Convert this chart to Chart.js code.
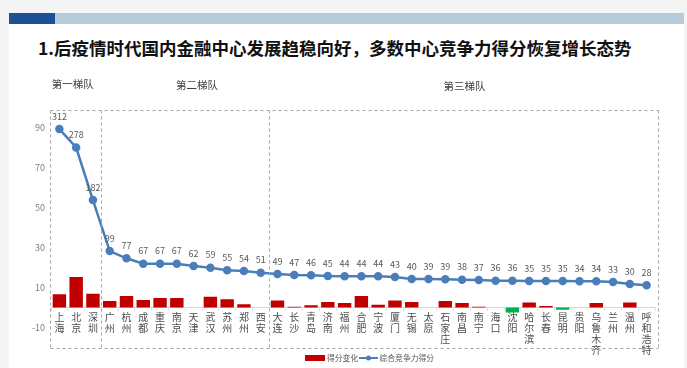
<!DOCTYPE html>
<html>
<head>
<meta charset="utf-8">
<script src="https://cdn.jsdelivr.net/npm/chart.js@4"></script>
<style>
body{margin:0;width:687px;height:368px;background:#f3f4f4;overflow:hidden;position:relative;font-family:"Noto Sans CJK SC",sans-serif}
.card{position:absolute;left:9px;top:13px;width:675px;height:355px;background:#fff}
.stripe1{position:absolute;left:9px;top:13px;width:46px;height:11px;background:#1c4f93}
.stripe2{position:absolute;left:55px;top:13px;width:629px;height:11px;background:#b7ccd9}
h1{position:absolute;left:38px;top:36px;margin:0;font-size:17.5px;line-height:24px;font-weight:bold;color:#111;white-space:nowrap}
#wrap{position:absolute;left:0;top:0;width:687px;height:368px}
</style>
</head>
<body>
<div class="card"></div>
<div class="stripe1"></div>
<div class="stripe2"></div>
<h1>1.后疫情时代国内金融中心发展趋稳向好，多数中心竞争力得分恢复增长态势</h1>
<div id="wrap"><canvas id="chart"></canvas></div>
<script>
// 城市（按综合竞争力排序）
const cities = ['上海','北京','深圳','广州','杭州','成都','重庆','南京','天津','武汉','苏州','郑州','西安',
    '大连','长沙','青岛','济南','福州','合肥','宁波','厦门','无锡','太原','石家庄','南昌','南宁','海口',
    '沈阳','哈尔滨','长春','昆明','贵阳','乌鲁木齐','兰州','温州','呼和浩特'];
// 综合竞争力得分（标注值）
const scores = [312,278,182,99,77,67,67,67,62,59,55,54,51,
    49,47,46,45,44,44,44,43,40,39,39,38,37,36,36,35,35,35,34,34,33,30,28];
// 折线绘制值（图上读数）
const lineValues = [89.2,80,53.7,28.2,24.6,21.9,21.9,21.9,20.7,19.9,18.6,18.2,17.4,
    16.7,16.2,16.1,15.7,15.6,15.6,15.6,15.2,14.2,14.2,14.1,13.9,13.7,13.4,13.4,13.2,13.2,13.2,13.1,13.1,12.7,11.7,11.1];
// 得分变化
const changes = [6.6,15.2,6.9,3.2,5.7,3.7,4.7,4.7,0,5.4,4.1,1.6,0,
    3.5,0.4,1.1,2.7,2.2,5.7,1.4,3.5,2.7,0,3.2,2.2,0.4,0,-2.5,2.5,0.7,-1.1,0,2.2,0,2.5,0];
// 梯队
const tiers = ['第一梯队','第二梯队','第三梯队'];
const tierSizes = [3,10,23];
const yTicks = [-10,10,30,50,70,90];

const FONT = '"Noto Sans CJK SC", "Microsoft YaHei", sans-serif';

const overlay = {
    id: 'overlay',
    afterDraw(chart) {
        const {ctx, chartArea: area, scales: {x}} = chart;
        ctx.save();
        // 梯队虚线框
        ctx.strokeStyle = '#a6a6a6';
        ctx.lineWidth = 1;
        ctx.setLineDash([3, 3]);
        const top = Math.round(area.top) + 0.5;
        const bottom = Math.round(area.bottom) + 0.5;
        const edges = [];
        let start = 0;
        tierSizes.forEach(n => { edges.push(start - 0.5); start += n; });
        edges.push(start - 0.5);
        const px = edges.map((e, i) => {
            let p = x.getPixelForValue(e);
            if (i === 0) p -= 1.5;
            if (i === edges.length - 1) p += 3;
            return Math.round(p) + 0.5;
        });
        ctx.beginPath();
        ctx.moveTo(px[0], top); ctx.lineTo(px[px.length - 1], top);
        ctx.moveTo(px[0], bottom); ctx.lineTo(px[px.length - 1], bottom);
        px.forEach(p => { ctx.moveTo(p, top); ctx.lineTo(p, bottom); });
        ctx.stroke();
        ctx.setLineDash([]);
        const labelAt = [0.8, 8.2, 24.15];
        ctx.fillStyle = '#404040';
        ctx.font = '10.5px ' + FONT;
        ctx.textAlign = 'center';
        ctx.textBaseline = 'middle';
        tiers.forEach((t, i) => ctx.fillText(t, x.getPixelForValue(labelAt[i]), area.top - 25 + i));
        // 折线数据标签
        const meta = chart.getDatasetMeta(1);
        ctx.fillStyle = '#595959';
        ctx.font = '9px ' + FONT;
        meta.data.forEach((pt, i) => {
            ctx.fillText(String(scores[i]), pt.x, pt.y - 13);
        });
        // 图例
        const ly = area.bottom + 10.5;
        ctx.fillStyle = '#c00000';
        ctx.fillRect(305, ly - 3, 20, 6);
        ctx.fillStyle = '#595959';
        ctx.font = '7.8px ' + FONT;
        ctx.textAlign = 'left';
        ctx.fillText('得分变化', 327, ly);
        ctx.strokeStyle = '#4a7ebb';
        ctx.lineWidth = 2;
        ctx.beginPath();
        ctx.moveTo(359, ly);
        ctx.lineTo(378, ly);
        ctx.stroke();
        ctx.fillStyle = '#4a7ebb';
        ctx.beginPath();
        ctx.arc(368.5, ly, 2.5, 0, Math.PI * 2);
        ctx.fill();
        ctx.fillStyle = '#595959';
        ctx.fillText('综合竞争力得分', 379.5, ly);
        ctx.restore();
    }
};

new Chart(document.getElementById('chart').getContext('2d'), {
    type: 'bar',
    data: {
        labels: cities.map(c => c.split('')),
        datasets: [
            {
                type: 'bar',
                label: '得分变化',
                data: changes,
                backgroundColor: changes.map(v => v < 0 ? '#00b050' : '#c00000'),
                barPercentage: 0.8,
                categoryPercentage: 1,
                order: 2
            },
            {
                type: 'line',
                label: '综合竞争力得分',
                data: lineValues,
                borderColor: '#4a7ebb',
                backgroundColor: '#4a7ebb',
                borderWidth: 2.5,
                pointRadius: 3,
                pointHoverRadius: 3,
                tension: 0,
                order: 1
            }
        ]
    },
    options: {
        responsive: true,
        maintainAspectRatio: false,
        animation: false,
        layout: { padding: { left: 21, right: 32, top: 109.5, bottom: 20.5 } },
        plugins: {
            legend: { display: false },
            tooltip: { enabled: false }
        },
        scales: {
            x: {
                position: { y: 0 },
                grid: { drawOnChartArea: false, drawTicks: true, tickLength: 3, color: '#e3e3e3' },
                border: { color: '#d9d9d9' },
                ticks: {
                    color: '#4d4d4d',
                    font: { family: FONT, size: 10, lineHeight: 1.12 },
                    padding: 1,
                    maxRotation: 0,
                    autoSkip: false
                }
            },
            y: {
                min: -20,
                max: 99,
                afterBuildTicks: axis => { axis.ticks = yTicks.map(v => ({ value: v })); },
                afterFit: axis => { axis.width = 30; },
                grid: { display: false, drawTicks: false },
                border: { display: false },
                ticks: { color: '#7f7f7f', font: { family: FONT, size: 9 }, padding: 6 }
            }
        }
    },
    plugins: [overlay]
});
</script>
</body>
</html>
